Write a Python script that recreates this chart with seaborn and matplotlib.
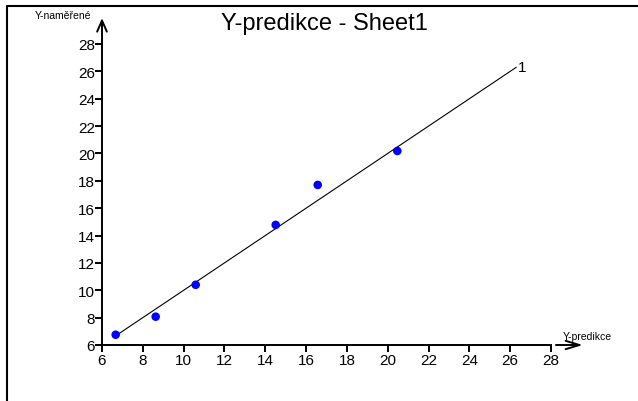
import matplotlib
matplotlib.use("Agg")
import matplotlib.pyplot as plt
import seaborn as sns
import pandas as pd
from matplotlib.lines import Line2D

# Predicted vs. measured values
y_predikce = [6.67, 8.63, 10.59, 14.51, 16.57, 20.47]
y_namerene = [6.75, 8.07, 10.40, 14.78, 17.70, 20.18]

# Reference line (slope 1) end points
line_x = [6.67, 26.30]
line_y = [6.67, 26.30]
line_label = "1"

ticks = [6, 8, 10, 12, 14, 16, 18, 20, 22, 24, 26, 28]

title = "Y-predikce - Sheet1"
x_label = "Y-predikce"
y_label = "Y-naměřené"

sns.set_theme(style="white")
plt.rcParams["font.family"] = ["Liberation Sans", "DejaVu Sans"]

W, H = 638, 402
fig = plt.figure(figsize=(W / 100, H / 100), dpi=100)
fig.patch.set_facecolor("white")
ax = fig.add_axes([102 / W, 56 / H, 449 / W, 301 / H])
ax.set_facecolor("none")

pts = pd.DataFrame({"pred": y_predikce, "meas": y_namerene})
fit = pd.DataFrame({"x": line_x, "y": line_y})

sns.lineplot(data=fit, x="x", y="y", ax=ax, color="black", lw=0.8,
             clip_on=False)
sns.scatterplot(data=pts, x="pred", y="meas", ax=ax, color="#0000ff",
                s=38, edgecolor="none", zorder=3, clip_on=False)
ax.text(line_x[-1] + 0.1, line_y[-1], line_label, ha="left", va="center",
        fontsize=11, color="black")

ax.set_xlim(ticks[0], ticks[-1])
ax.set_ylim(ticks[0], ticks[-1])
ax.set_xticks(ticks)
ax.set_yticks(ticks)
ax.set_xlabel("")
ax.set_ylabel("")
ax.tick_params(axis="both", which="major", labelsize=11, colors="black",
               length=5, width=1.4, direction="out", bottom=True, left=True)
ax.tick_params(axis="x", pad=1)
ax.tick_params(axis="y", pad=0)
ax.grid(False)
for side in ("top", "right"):
    ax.spines[side].set_visible(False)
for side in ("left", "bottom"):
    ax.spines[side].set_color("black")
    ax.spines[side].set_linewidth(1.4)

# Axis arrows
ax.annotate("", xy=(0, 1.086), xytext=(0, 1.0), xycoords="axes fraction",
            arrowprops=dict(arrowstyle="->,head_length=0.8,head_width=0.35",
                            lw=1.4, color="black", mutation_scale=10,
                            shrinkA=0, shrinkB=0))
ax.annotate("", xy=(1.071, 0), xytext=(1.011, 0), xycoords="axes fraction",
            arrowprops=dict(arrowstyle="->,head_length=1.0,head_width=0.3",
                            lw=1.4, color="black", mutation_scale=10,
                            shrinkA=0, shrinkB=0))

fig.text(63 / W, 1 - 16 / H, y_label, ha="center", va="center",
         fontsize=7.5, color="black")
fig.text(587 / W, 1 - 337 / H, x_label, ha="center", va="center",
         fontsize=7.5, color="black")
fig.text(324 / W, 1 - 24 / H, title, ha="center", va="center",
         fontsize=17, color="black")

# Frame around the chart area
fig.add_artist(Line2D([7 / W, 7 / W], [0, 1 - 7 / H], transform=fig.transFigure,
                      color="black", lw=1.5))
fig.add_artist(Line2D([7 / W, 1], [1 - 7 / H, 1 - 7 / H], transform=fig.transFigure,
                      color="black", lw=1.5))

fig.savefig("out.png", dpi=100, facecolor="white")
